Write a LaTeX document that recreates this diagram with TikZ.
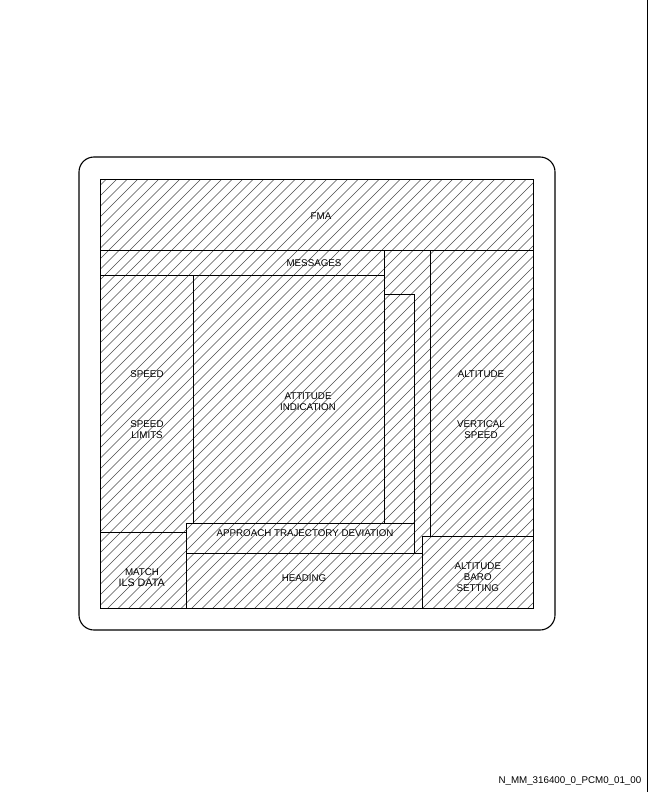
\documentclass[tikz,border=0pt]{standalone}
\usepackage{fontspec}
\setmainfont{Liberation Sans}
\begin{document}
\begin{tikzpicture}[x=1bp,y=-1bp,
  frame/.style={line width=0.95bp, black},
  hatch/.style={line width=0.5bp, black!70},
  lbl/.style={font=\fontsize{9.8}{11}\selectfont, align=center, inner sep=0pt},
]
\useasboundingbox (0,0) rectangle (648,792);
% outer rounded frame
\draw[line width=1.1bp, rounded corners=15bp] (79,157) rectangle (555,630);
% hatching
\begin{scope}
  \clip (100,179) rectangle (533,608);
  \foreach \k in {0,...,84} \draw[hatch] ({-340+10.5*\k},615) -- ++(445,-445);
\end{scope}
% panel outlines
\draw[frame] (100,179) rectangle (533,608);
\draw[frame] (100,250) -- (533,250);
\draw[frame] (100,275) -- (384,275);
\draw[frame] (384,250) -- (384,523);
\draw[frame] (193,275) -- (193,523);
\draw[frame] (100,532) -- (186,532);
\draw[frame] (186,523) rectangle (414,553);
\draw[frame] (186,553) -- (186,608);
\draw[frame] (384,294) -- (414,294) -- (414,553);
\draw[frame] (430,250) -- (430,536);
\draw[frame] (422,536) -- (533,536);
\draw[frame] (422,536) -- (422,608);
\draw[frame] (414,553) -- (422,553);
% labels
\node[lbl] (fma) at (321,216) {FMA};
\node[lbl] (msg) at (314,263.3) {MESSAGES};
\node[lbl] (spd) at (147,374) {SPEED};
\node[lbl] (spdl) at (147,429.3) {SPEED\\LIMITS};
\node[lbl] (att) at (308,401.5) {ATTITUDE\\INDICATION};
\node[lbl] (alt) at (481,374) {ALTITUDE};
\node[lbl] (vs) at (481,429.3) {VERTICAL\\SPEED};
\node[lbl] (app) at (305,533.3) {APPROACH TRAJECTORY DEVIATION};
\node[lbl] (hdg) at (304,578.3) {HEADING};
\node[lbl] (match) at (142,572.6) {MATCH};
\node[lbl, font=\fontsize{10.8}{12}\selectfont] (ils) at (141.7,583) {ILS DATA};
\node[lbl] (baro) at (477.8,577.3) {ALTITUDE\\BARO\\SETTING};
\node[lbl, anchor=east] (ref) at (641.5,781) {N\_MM\_316400\_0\_PCM0\_01\_00};
% right page edge
\draw[line width=1.3bp] (647.3,0) -- (647.3,792);
\end{tikzpicture}
\end{document}
